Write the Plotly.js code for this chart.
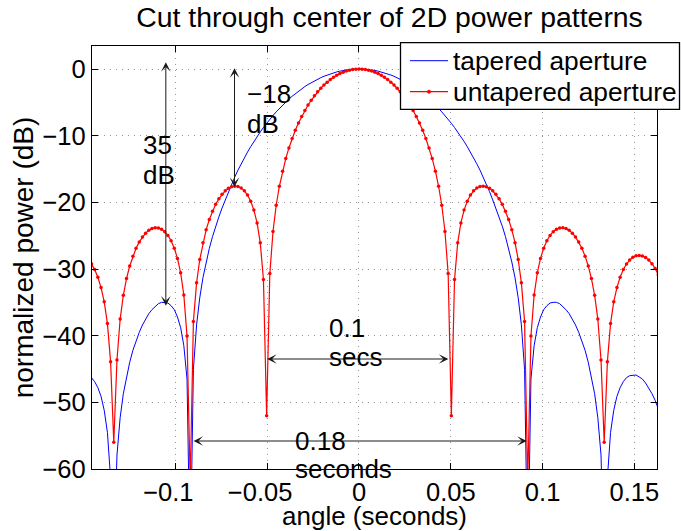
<!DOCTYPE html>
<html>
<head>
<meta charset="utf-8">
<script src="https://cdn.plot.ly/plotly-3.0.1.min.js"></script>
<style>
html, body { margin: 0; padding: 0; background: #ffffff; }
#chart { width: 681px; height: 531px; }
</style>
</head>
<body>
<div id="chart"></div>
<script>
// ---- data ----
// uniform angle grid: first sample and spacing (seconds)
const angleStart = -0.145698;
const angleStep = 0.0017345;

// normalized power (dB) of the untapered aperture, one value per grid sample
const untaperedDb = [
-29.26,-30.09,-31.23,-32.78,-34.93,-38.16,-43.93,-56,-43.64,-37.51,-33.94,-31.44,-29.55,-28.07,-26.89,-25.94,-25.19,-24.62,-24.20,-23.94,-23.82,-23.85,-24.04,-24.40,-24.97,-25.77,-26.89,-28.41,-30.58,-33.90,-40.06,-62,-37.87,-32.08,-28.58,-26.06,-24.12,-22.58,-21.33,-20.30,-19.47,-18.80,-18.28,-17.90,-17.66,-17.57,-17.63,-17.85,-18.27,-18.91,-19.84,-21.16,-23.09,-26.07,-31.59,-52,-30.69,-24.37,-20.44,-17.59,-15.32,-13.44,-11.84,-10.43,-9.19,-8.09,-7.11,-6.22,-5.41,-4.69,-4.03,-3.43,-2.89,-2.40,-1.97,-1.58,-1.24,-0.95,-0.69,-0.48,-0.31,-0.17,-0.08,-0.02,
0,
-0.02,-0.08,-0.17,-0.31,-0.48,-0.69,-0.95,-1.24,-1.58,-1.97,-2.40,-2.89,-3.43,-4.03,-4.69,-5.41,-6.22,-7.11,-8.09,-9.19,-10.43,-11.84,-13.44,-15.32,-17.59,-20.44,-24.37,-30.69,-52,-31.59,-26.07,-23.09,-21.16,-19.84,-18.91,-18.27,-17.85,-17.63,-17.57,-17.66,-17.90,-18.28,-18.80,-19.47,-20.30,-21.33,-22.58,-24.12,-26.06,-28.58,-32.08,-37.87,-62,-40.06,-33.90,-30.58,-28.41,-26.89,-25.77,-24.97,-24.40,-24.04,-23.85,-23.82,-23.94,-24.20,-24.62,-25.19,-25.94,-26.89,-28.07,-29.55,-31.44,-33.94,-37.51,-43.64,-56,-43.93,-38.16,-34.93,-32.78,-31.23,-30.09,-29.26,-28.66,-28.25,-28.03,-27.96,-28.04,-28.27,-28.66,-29.21,-29.93,-30.86
];

// normalized power (dB) of the tapered aperture, same grid
const taperedDb = [
-46.3,-46.9,-47.8,-49.1,-51.2,-54.5,-61.4,-75,-57.9,-52.3,-48.7,-46.1,-44.0,-42.2,-40.7,-39.5,-38.4,-37.5,-36.7,-36.1,-35.6,-35.2,-35.0,-35.0,-35.1,-35.5,-36.1,-37.2,-38.8,-41.5,-46.5,-75,-45.10,-38.39,-34.32,-31.31,-28.95,-26.91,-25.15,-23.58,-22.18,-20.85,-19.63,-18.41,-17.26,-16.19,-15.17,-14.22,-13.32,-12.46,-11.65,-10.87,-10.14,-9.44,-8.78,-8.14,-7.54,-6.97,-6.43,-5.91,-5.42,-4.94,-4.51,-4.09,-3.70,-3.32,-2.97,-2.64,-2.33,-2.05,-1.78,-1.53,-1.30,-1.09,-0.90,-0.73,-0.57,-0.44,-0.32,-0.22,-0.14,-0.08,-0.04,-0.01,
0,
-0.01,-0.04,-0.08,-0.14,-0.22,-0.32,-0.44,-0.57,-0.73,-0.90,-1.09,-1.30,-1.53,-1.78,-2.05,-2.33,-2.64,-2.97,-3.32,-3.70,-4.09,-4.51,-4.94,-5.42,-5.91,-6.43,-6.97,-7.54,-8.14,-8.78,-9.44,-10.14,-10.87,-11.65,-12.46,-13.32,-14.22,-15.17,-16.19,-17.26,-18.41,-19.63,-20.85,-22.18,-23.58,-25.15,-26.91,-28.95,-31.31,-34.32,-38.39,-45.10,-75,-46.5,-41.5,-38.8,-37.2,-36.1,-35.5,-35.1,-35.0,-35.0,-35.2,-35.6,-36.1,-36.7,-37.5,-38.4,-39.5,-40.7,-42.2,-44.0,-46.1,-48.7,-52.3,-57.9,-75,-61.4,-54.5,-51.2,-49.1,-47.8,-46.9,-46.3,-46.0,-45.9,-45.9,-46.2,-46.5,-47.1,-47.8,-48.7,-49.7,-51.0
];

const seriesNames = ['tapered aperture', 'untapered aperture'];
const seriesColors = ['#0000ff', '#ff0000'];

const xTickValues = [-0.1, -0.05, 0, 0.05, 0.1, 0.15];
const xTickLabels = ['\u22120.1\u00a0\u00a0', '\u22120.05\u00a0\u00a0', '0', '0.05', '0.1', '0.15'];
const yTickValues = [-60, -50, -40, -30, -20, -10, 0];
const yTickLabels = ['\u221260', '\u221250', '\u221240', '\u221230', '\u221220', '\u221210', '0'];

// measurement markers: [x1, y1, x2, y2] double-headed arrows
const dbArrows = [
  [-0.1052, 1.1, -0.1052, -35.5],
  [-0.0678, 0.2, -0.0678, -17.7]
];
const secArrows = [
  [-0.0503, -43.5, 0.0487, -43.5],
  [-0.0904, -55.8, 0.0914, -55.8]
];

// ---- drawing ----
const FONT = 'Liberation Sans, Arial, Helvetica, sans-serif';

const traces = [
  {
    type: 'scatter', mode: 'lines', name: seriesNames[0],
    x0: angleStart, dx: angleStep, y: taperedDb,
    line: { color: seriesColors[0], width: 1 }
  },
  {
    type: 'scatter', mode: 'lines+markers', name: seriesNames[1],
    x0: angleStart, dx: angleStep, y: untaperedDb,
    line: { color: seriesColors[1], width: 1.2 },
    marker: { color: seriesColors[1], size: 3.5, symbol: 'circle' }
  }
];

function dblArrow(a) {
  return {
    xref: 'x', yref: 'y', axref: 'x', ayref: 'y',
    ax: a[0], ay: a[1], x: a[2], y: a[3],
    text: '', showarrow: true,
    arrowhead: 3, startarrowhead: 3, arrowside: 'end+start',
    arrowsize: 1.6, startarrowsize: 1.6, arrowwidth: 1, arrowcolor: '#1a1a1a',
    standoff: 0, startstandoff: 0,
    font: { size: 1 }, borderpad: 0
  };
}
function label(text, x, y, yref) {
  return {
    xref: 'x', yref: yref || 'y', x: x, y: y, text: text, showarrow: false,
    xanchor: 'left', yanchor: 'middle',
    font: { family: FONT, size: 26, color: '#000000' }
  };
}

// legend box drawn in paper coordinates (pixel positions converted)
const PL = 92, PR = 657, PT = 46, PB = 469;
function px(xp) { return (xp - PL) / (PR - PL); }
function py(yp) { return (PB - yp) / (PB - PT); }
const legendRows = [60.7, 91.7];
const legendShapes = [
  { type: 'rect', xref: 'paper', yref: 'paper', x0: px(400.5), x1: px(679.5), y0: py(109.3), y1: py(42.7),
    line: { color: '#000000', width: 1.3 }, fillcolor: '#ffffff', layer: 'above' },
  { type: 'line', xref: 'paper', yref: 'paper', x0: px(410), x1: px(448), y0: py(legendRows[0]), y1: py(legendRows[0]),
    line: { color: seriesColors[0], width: 1 }, layer: 'above' },
  { type: 'line', xref: 'paper', yref: 'paper', x0: px(410), x1: px(448), y0: py(legendRows[1]), y1: py(legendRows[1]),
    line: { color: seriesColors[1], width: 1.2 }, layer: 'above' },
  { type: 'circle', xref: 'paper', yref: 'paper', x0: px(427.3), x1: px(430.7), y0: py(legendRows[1] + 1.7), y1: py(legendRows[1] - 1.7),
    line: { color: seriesColors[1], width: 0.5 }, fillcolor: seriesColors[1], layer: 'above' }
];
const legendTexts = seriesNames.map(function (name, i) {
  return {
    xref: 'paper', yref: 'paper', x: px(451), y: py(legendRows[i] + 0.5), text: name, showarrow: false,
    xanchor: 'left', yanchor: 'middle',
    font: { family: FONT, size: 26.3, color: '#000000' }
  };
});

const annotations = []
  .concat(dbArrows.map(dblArrow))
  .concat(secArrows.map(dblArrow))
  .concat([
    label('35', -0.1189, -11.35),
    label('dB', -0.1189, -15.86),
    label('\u221218', -0.0622, -3.68),
    label('dB', -0.0622, -8.20),
    label('0.1', -0.0176, -38.87),
    label('secs', -0.0176, -43.23),
    label('0.18', -0.0358, -55.76),
    label('seconds', -0.0358, -0.001, 'paper')
  ])
  .concat(legendTexts);

const axisCommon = {
  showline: true, linecolor: '#000000', linewidth: 1.2, mirror: 'allticks',
  ticks: 'inside', ticklen: 6, tickwidth: 1, tickcolor: '#000000',
  showgrid: true, gridcolor: '#999999', gridwidth: 1, griddash: '1px,5px',
  zeroline: false, automargin: false,
  tickfont: { family: FONT, size: 25.5, color: '#000000' }
};

const layout = {
  width: 681, height: 531,
  margin: { l: PL, r: 681 - PR, t: PT, b: 531 - PB, pad: 0 },
  paper_bgcolor: '#ffffff', plot_bgcolor: '#ffffff',
  font: { family: FONT, color: '#000000' },
  title: {
    text: 'Cut through center of 2D power patterns',
    font: { family: FONT, size: 28.4, color: '#000000' },
    xref: 'container', x: 0.572, xanchor: 'center',
    yref: 'container', y: 0.967, yanchor: 'middle'
  },
  xaxis: Object.assign({}, axisCommon, {
    range: [-0.14542, 0.16232],
    tickmode: 'array', tickvals: xTickValues, ticktext: xTickLabels,
    title: { text: 'angle (seconds)', font: { family: FONT, size: 26, color: '#000000' }, standoff: 5 }
  }),
  yaxis: Object.assign({}, axisCommon, {
    range: [-60, 3.45],
    tickmode: 'array', tickvals: yTickValues, ticktext: yTickLabels,
    title: { text: 'normalized power (dB)', font: { family: FONT, size: 28, color: '#000000' }, standoff: 0 }
  }),
  showlegend: false,
  shapes: legendShapes,
  annotations: annotations
};

Plotly.newPlot('chart', traces, layout, { displayModeBar: false, staticPlot: true });
</script>
</body>
</html>
